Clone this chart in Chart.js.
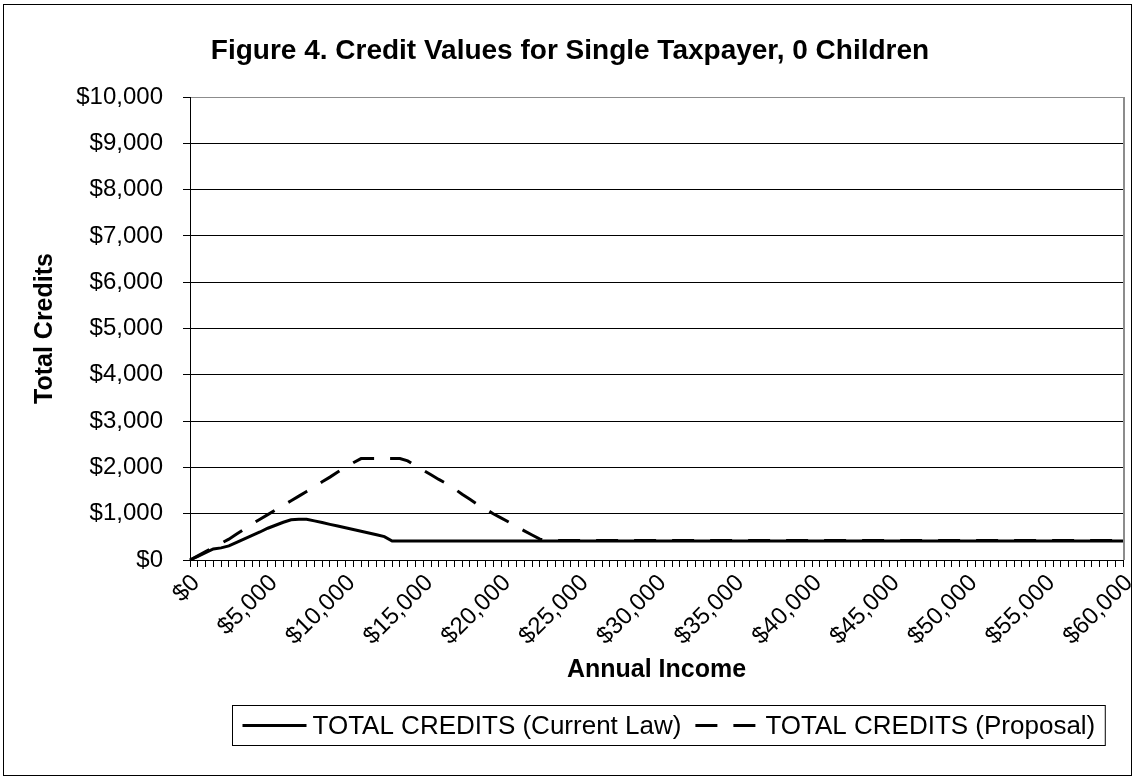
<!DOCTYPE html>
<html>
<head>
<meta charset="utf-8">
<title>Credit Values for Single Taxpayer, 0 Children</title>
<script src="https://cdn.jsdelivr.net/npm/chart.js@4.4.1/dist/chart.umd.min.js"></script>
<style>
    html, body { margin: 0; padding: 0; background: #fff; }
    #wrap { position: relative; width: 1135px; height: 779px; }
</style>
</head>
<body>
<div id="wrap"><canvas id="creditChart" width="1135" height="779"></canvas></div>
<script>
// income levels, $0 to $60,000 in $500 steps
var incomes = [];
for (var inc = 0; inc <= 60000; inc += 500) {
    incomes.push(inc);
}

// total credits under current law, one row per $5,000 of income
var currentLaw = [
    0, 80, 160, 240, 262, 305, 380, 455, 530, 605,
    686, 750, 815, 870, 880, 880, 845, 808, 770, 735,
    698, 660, 622, 585, 545, 505, 410, 410, 410, 410,
    410, 410, 410, 410, 410, 410, 410, 410, 410, 410,
    410, 410, 410, 410, 410, 410, 410, 410, 410, 410,
    410, 410, 410, 410, 410, 410, 410, 410, 410, 410,
    410, 410, 410, 410, 410, 410, 410, 410, 410, 410,
    410, 410, 410, 410, 410, 410, 410, 410, 410, 410,
    410, 410, 410, 410, 410, 410, 410, 410, 410, 410,
    410, 410, 410, 410, 410, 410, 410, 410, 410, 410,
    410, 410, 410, 410, 410, 410, 410, 410, 410, 410,
    410, 410, 410, 410, 410, 410, 410, 410, 410, 410,
    410
];

// total credits under the proposal
var proposal = [
    0, 90, 180, 270, 360, 450, 560, 670, 780, 880,
    980, 1080, 1180, 1280, 1380, 1480, 1580, 1690, 1790, 1900,
    2000, 2100, 2190, 2190, 2190, 2190, 2190, 2190, 2140, 2040,
    1940, 1840, 1740, 1650, 1540, 1420, 1310, 1200, 1100, 1000,
    910, 820, 720, 630, 540, 450, 420, 420, 420, 420,
    420, 420, 420, 420, 420, 420, 420, 420, 420, 420,
    420, 420, 420, 420, 420, 420, 420, 420, 420, 420,
    420, 420, 420, 420, 420, 420, 420, 420, 420, 420,
    420, 420, 420, 420, 420, 420, 420, 420, 420, 420,
    420, 420, 420, 420, 420, 420, 420, 420, 420, 420,
    420, 420, 420, 420, 420, 420, 420, 420, 420, 420,
    420, 420, 420, 420, 420, 420, 420, 420, 420, 420,
    420
];

var seriesNames = ['TOTAL CREDITS (Current Law)', 'TOTAL CREDITS (Proposal)'];
var chartTitle = 'Figure 4. Credit Values for Single Taxpayer, 0 Children';
var xTitle = 'Annual Income';
var yTitle = 'Total Credits';
var labelEvery = 10;   // label one category in ten ($5,000)

var FONT = 'Arial, "Liberation Sans", sans-serif';

function money(v) {
    return '$' + Number(v).toLocaleString('en-US');
}

// title, outer frame, plot frame and the boxed legend
var decorations = {
    id: 'decorations',
    afterDraw: function (chart) {
        var ctx = chart.ctx;
        var area = chart.chartArea;
        ctx.save();

        // outer frame
        ctx.strokeStyle = '#000';
        ctx.lineWidth = 1;
        ctx.strokeRect(3.5, 4.5, chart.width - 7, chart.height - 8);

        // plot area right edge (grey)
        ctx.strokeStyle = '#8c8c8c';
        ctx.lineWidth = 2;
        ctx.beginPath();
        ctx.moveTo(area.right + 1, area.top);
        ctx.lineTo(area.right + 1, area.bottom);
        ctx.stroke();

        // chart title
        ctx.fillStyle = '#000';
        ctx.font = 'bold 28px ' + FONT;
        ctx.textAlign = 'center';
        ctx.textBaseline = 'middle';
        ctx.fillText(chartTitle, 570, 51);

        // legend
        var ds = chart.data.datasets;
        ctx.font = '26px ' + FONT;
        var sample = 64, gap = 6, itemGap = 14, padX = 10;
        var widths = ds.map(function (d) { return ctx.measureText(d.label).width; });
        var total = padX * 2;
        widths.forEach(function (w, i) {
            total += sample + gap + w + (i < widths.length - 1 ? itemGap : 0);
        });
        var boxL = Math.round(668 - total / 2) + 0.5;
        var boxT = 705.5, boxH = 40;
        ctx.lineWidth = 1;
        ctx.strokeStyle = '#000';
        ctx.fillStyle = '#fff';
        ctx.fillRect(boxL, boxT, total, boxH);
        ctx.strokeRect(boxL, boxT, total, boxH);

        var x = boxL + padX;
        var cy = boxT + boxH / 2;
        ds.forEach(function (d, i) {
            ctx.beginPath();
            ctx.setLineDash(d.borderDash || []);
            ctx.lineWidth = d.borderWidth;
            ctx.strokeStyle = d.borderColor;
            ctx.moveTo(x, cy);
            ctx.lineTo(x + sample, cy);
            ctx.stroke();
            ctx.setLineDash([]);
            ctx.fillStyle = '#000';
            ctx.textAlign = 'left';
            ctx.textBaseline = 'middle';
            ctx.fillText(d.label, x + sample + gap, cy + 1);
            x += sample + gap + widths[i] + itemGap;
        });
        ctx.restore();
    }
};

var ctx = document.getElementById('creditChart');
var creditChart = new Chart(ctx, {
    type: 'line',
    data: {
        labels: incomes,
        datasets: [
            {
                label: seriesNames[0],
                data: currentLaw,
                borderColor: '#000',
                borderWidth: 3,
                pointRadius: 0,
                tension: 0,
                order: 2
            },
            {
                label: seriesNames[1],
                data: proposal,
                borderColor: '#000',
                borderWidth: 3,
                borderDash: [22, 16],
                pointRadius: 0,
                tension: 0,
                order: 1
            }
        ]
    },
    options: {
        responsive: false,
        animation: false,
        devicePixelRatio: 1,
        layout: {
            padding: { left: 0, right: 12, top: 97, bottom: 94 }
        },
        plugins: {
            legend: { display: false },
            title: { display: false },
            tooltip: { enabled: false }
        },
        scales: {
            x: {
                type: 'category',
                offset: false,
                afterFit: function (scale) {
                    scale.height = 125;
                    scale.paddingLeft = 0;
                    scale.paddingRight = 0;
                },
                border: { display: true, color: '#000', width: 1 },
                grid: {
                    display: true,
                    drawOnChartArea: false,
                    drawTicks: true,
                    tickLength: 7,
                    tickColor: '#000'
                },
                ticks: {
                    autoSkip: false,
                    maxRotation: 45,
                    minRotation: 45,
                    padding: 2,
                    labelOffset: 6,
                    color: '#000',
                    font: { family: FONT, size: 24 },
                    callback: function (value, index) {
                        return index % labelEvery === 0 ? money(incomes[index]) : '';
                    }
                },
                title: {
                    display: true,
                    text: xTitle,
                    color: '#000',
                    font: { family: FONT, size: 25, weight: 'bold' },
                    padding: { top: 0, bottom: 0 }
                }
            },
            y: {
                min: 0,
                max: 10000,
                afterFit: function (scale) {
                    scale.width = 190;
                },
                border: { display: true, color: '#000', width: 1 },
                grid: {
                    color: function (c) {
                        return c.tick && c.tick.value === 10000 ? '#8c8c8c' : '#000';
                    },
                    lineWidth: 1,
                    drawTicks: true,
                    tickLength: 7,
                    tickColor: '#000'
                },
                ticks: {
                    stepSize: 1000,
                    padding: 20,
                    color: '#000',
                    font: { family: FONT, size: 24 },
                    callback: function (value) {
                        return money(value);
                    }
                },
                title: {
                    display: true,
                    text: yTitle,
                    color: '#000',
                    font: { family: FONT, size: 25, weight: 'bold' },
                    padding: { top: 30, bottom: 0 }
                }
            }
        }
    },
    plugins: [decorations]
});
</script>
</body>
</html>
